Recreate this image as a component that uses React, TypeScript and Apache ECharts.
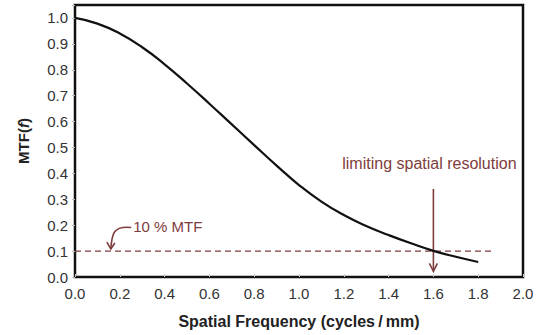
import React, { useEffect, useRef } from "react";
import * as echarts from "echarts";

const freq = [0, 0.1, 0.2, 0.3, 0.4, 0.5, 0.6, 0.7, 0.8, 0.9, 1.0, 1.1, 1.2, 1.3, 1.4, 1.5, 1.6, 1.7, 1.8];
const mtf = [1.0, 0.978, 0.94, 0.887, 0.821, 0.747, 0.669, 0.589, 0.509, 0.43, 0.355, 0.291, 0.239, 0.197, 0.162, 0.13, 0.101, 0.078, 0.058];
const threshold = 0.1;
const thresholdEnd = 1.865;
const limitFreq = 1.6;
const pctLabel = "10 % MTF";
const limitLabel = "limiting spatial resolution";

const RED = "#7e3c3c";
const FONT = "'Liberation Sans', Arial, sans-serif";

export default function App() {
  const ref = useRef<HTMLDivElement>(null);
  useEffect(() => {
    if (!ref.current) return;
    const chart = echarts.init(ref.current, null, { renderer: "svg" });
    chart.setOption({
      animation: false,
      grid: {
        left: 75,
        right: 15,
        top: 5,
        bottom: 58,
        show: true,
        borderColor: "#111",
        borderWidth: 2.5,
        backgroundColor: "transparent",
      },
      xAxis: {
        type: "value",
        min: 0,
        max: 2,
        interval: 0.2,
        name: "Spatial Frequency (cycles\u2009/\u2009mm)",
        nameLocation: "middle",
        nameGap: 36,
        nameTextStyle: { fontFamily: FONT, fontSize: 16, fontWeight: "bold", color: "#222" },
        axisLine: { show: false },
        axisTick: { show: true, inside: true, length: 3, lineStyle: { color: "#ccc" } },
        splitLine: { show: false },
        axisLabel: {
          fontFamily: FONT,
          fontSize: 15,
          color: "#333",
          margin: 9,
          formatter: (v: number) => v.toFixed(1),
        },
      },
      yAxis: {
        type: "value",
        min: 0,
        max: 1.05,
        interval: 0.1,
        name: "{b|MTF(}{i|f}{b|)}",
        nameLocation: "middle",
        nameGap: 44,
        nameRotate: 90,
        nameTextStyle: {
          rich: {
            b: { fontFamily: FONT, fontSize: 15, fontWeight: "bold", color: "#222" },
            i: { fontFamily: FONT, fontSize: 15, fontWeight: "bold", fontStyle: "italic", color: "#222" },
          },
        },
        axisLine: { show: false },
        axisTick: { show: true, length: 3, lineStyle: { color: "#bbb" } },
        splitLine: { show: false },
        axisLabel: {
          fontFamily: FONT,
          fontSize: 15,
          color: "#333",
          margin: 7,
          formatter: (v: number) => (Math.abs(v * 10 - Math.round(v * 10)) < 1e-6 ? v.toFixed(1) : ""),
        },
      },
      series: [
        {
          type: "line",
          data: freq.map((f, i) => [f, mtf[i]]),
          smooth: true,
          symbol: "none",
          lineStyle: { color: "#111", width: 2.2 },
          z: 3,
        },
        {
          type: "line",
          data: [
            [0, threshold],
            [thresholdEnd, threshold],
          ],
          symbol: "none",
          lineStyle: { color: RED, width: 1.3, type: [6, 4] },
          z: 2,
        },
      ],
    });

    const p = (x: number, y: number) => chart.convertToPixel({ gridIndex: 0 }, [x, y]) as number[];
    const top = p(limitFreq, 0.34);
    const tip = p(limitFreq, 0.022);
    const lbl = p(limitFreq, 0.44);
    const arrTip = p(0.16, 0.108);
    const txt = p(0.26, 0.195);

    chart.setOption({
      graphic: [
        {
          type: "text",
          x: lbl[0] - 4,
          y: lbl[1],
          style: {
            text: limitLabel,
            fontFamily: FONT,
            fontSize: 16,
            fill: RED,
            align: "center",
            verticalAlign: "middle",
          },
        },
        {
          type: "line",
          shape: { x1: top[0], y1: top[1], x2: tip[0], y2: tip[1] },
          style: { stroke: RED, lineWidth: 1.6 },
        },
        {
          type: "polyline",
          shape: { points: [[tip[0] - 4, tip[1] - 8], [tip[0], tip[1]], [tip[0] + 4, tip[1] - 8]] },
          style: { stroke: RED, lineWidth: 1.6, fill: null },
        },
        {
          type: "text",
          x: txt[0],
          y: txt[1],
          style: {
            text: pctLabel,
            fontFamily: FONT,
            fontSize: 15,
            fill: RED,
            align: "left",
            verticalAlign: "middle",
          },
        },
        {
          type: "bezierCurve",
          shape: {
            x1: txt[0] - 2,
            y1: txt[1] + 1,
            cpx1: arrTip[0] + 2,
            cpy1: txt[1] - 1,
            cpx2: arrTip[0] + 1,
            cpy2: txt[1] + 8,
            x2: arrTip[0],
            y2: arrTip[1],
          },
          style: { stroke: RED, lineWidth: 1.6, fill: null },
        },
        {
          type: "polyline",
          shape: { points: [[arrTip[0] - 4, arrTip[1] - 7], [arrTip[0], arrTip[1]], [arrTip[0] + 4, arrTip[1] - 6]] },
          style: { stroke: RED, lineWidth: 1.6, fill: null },
        },
      ],
    });

    return () => chart.dispose();
  }, []);
  return <div ref={ref} style={{ width: 538, height: 335, position: "absolute", left: 0, top: 0 }} />;
}
